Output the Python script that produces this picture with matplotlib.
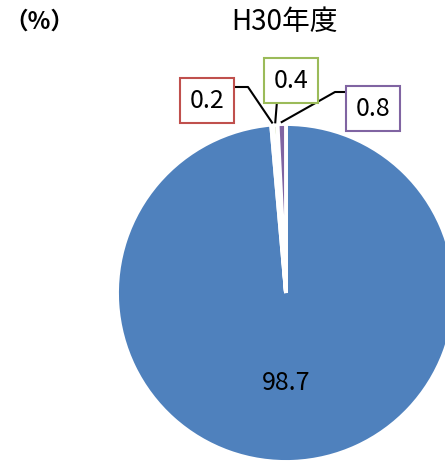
import numpy as np
import matplotlib.pyplot as plt

plt.rcParams['font.family'] = ['Noto Sans CJK JP', 'DejaVu Sans']

values = [98.7, 0.2, 0.4, 0.8]
labels = ['98.7', '0.2', '0.4', '0.8']
colors = ['#4F81BD', '#C0504D', '#9BBB59', '#8064A2']

fig = plt.figure(figsize=(4.45, 4.64), dpi=100)
ax = fig.add_axes([0, 0, 1, 1])

cx, cy, r = 286, 170, 169
wedges, _ = ax.pie(values, colors=colors, startangle=90, counterclock=False,
                   center=(cx, cy), radius=r, frame=True,
                   wedgeprops=dict(edgecolor='white', linewidth=2.8))
ax.set_xlim(0, 445)
ax.set_ylim(0, 464)
ax.set_aspect('equal')
ax.axis('off')

# label of the big slice inside
ax.text(cx, 81, labels[0], ha='center', va='center', fontsize=18)

# small slice labels: box centre, elbow point
boxes = {1: (207, 363), 2: (291, 383), 3: (373, 355)}
elbows = {1: (248, 376), 2: (277, 362), 3: (335, 371)}
for i in (1, 2, 3):
    w = wedges[i]
    ang = np.deg2rad((w.theta1 + w.theta2) / 2)
    ex, ey = cx + (r + 2) * np.cos(ang), cy + (r + 2) * np.sin(ang)
    bx, by = boxes[i]
    elx, ely = elbows[i]
    if i == 1:
        xs, ys = [ex, elx, bx + 20], [ey, ely, ely]
    elif i == 3:
        xs, ys = [ex, elx, bx - 20], [ey, ely, ely]
    else:
        xs, ys = [ex, elx, elx], [ey, ely, by]
    ax.plot(xs, ys, color='black', lw=1.5, zorder=1)
    ax.text(bx, by, labels[i], ha='center', va='center', fontsize=18, zorder=3,
            bbox=dict(boxstyle='square,pad=0.38', fc='white', ec=colors[i], lw=1.5))

fig.text(0.01, 0.953, '（%）', fontsize=17, ha='left', va='center', fontweight='bold')
fig.text(0.64, 0.953, 'H30年度', fontsize=20, ha='center', va='center')

fig.savefig('out.png', dpi=100)
